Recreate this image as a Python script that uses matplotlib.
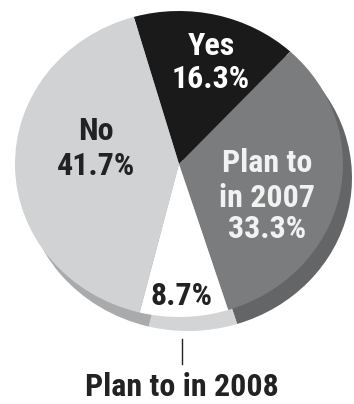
import matplotlib.pyplot as plt

# --- Données ---
labels = ["Yes", "Plan to\nin 2007", "Plan to in 2008", "No"]
values = [16.3, 33.3, 8.7, 41.7]
face_colors = ["#1b1a1b", "#7b7c7e", "#ffffff", "#d1d2d4"]
rim_colors = ["#1b1a1b", "#646567", "#d3d4d6", "#a9aaac"]

W, H = 354, 404
plt.rcParams['font.family'] = ['Roboto Condensed', 'DejaVu Sans']

fig = plt.figure(figsize=(W / 100, H / 100), dpi=100)

# ellipse de la face (pixels)
cx, cy, rx, ry = 179, 164, 164, 153
dx, dy = 9, 14  # épaisseur du bord 3D


def pie_axes(x0, y0, colors):
    ax = fig.add_axes([(x0 - rx) / W, 1 - (y0 + ry) / H, 2 * rx / W, 2 * ry / H])
    ax.pie(values, colors=colors, startangle=106, counterclock=False,
           radius=1, wedgeprops=dict(linewidth=0))
    ax.set_aspect('auto')
    ax.set_xlim(-1, 1)
    ax.set_ylim(-1, 1)
    ax.axis('off')
    return ax


# --- Bord (dessous) puis face ---
pie_axes(cx + dx, cy + dy, rim_colors)
pie_axes(cx, cy, face_colors)

# --- Textes (coordonnées pixels, lignes de base) ---
tx = fig.add_axes([0, 0, 1, 1])
tx.set_xlim(0, W)
tx.set_ylim(H, 0)
tx.axis('off')
tx.patch.set_alpha(0)

txt = dict(fontsize=23, fontweight='bold', ha='center', va='baseline')
dark = '#222222'


def lines(x, baselines, strs, color):
    for y, s in zip(baselines, strs):
        tx.text(x, y, s, color=color, **txt)


lines(211, [55, 88], [labels[0], f"{values[0]}%"], 'white')
lines(96, [140, 175], [labels[3], f"{values[3]}%"], dark)
lines(267, [172, 207, 238], labels[1].split("\n") + [f"{values[1]}%"], '#f2f2f2')
lines(181, [305], [f"{values[2]}%"], dark)
tx.plot([182, 182], [339, 364], color=dark, lw=1)
lines(182, [396], [labels[2]], dark)

fig.savefig("out.png", dpi=100)
